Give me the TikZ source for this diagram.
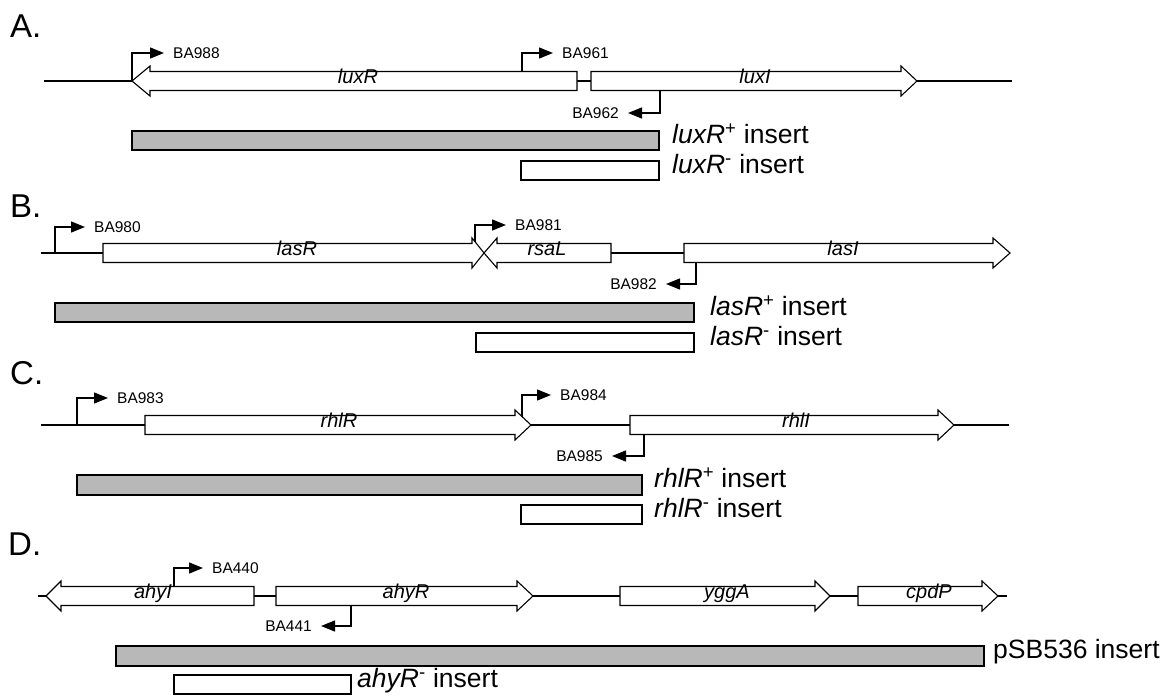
\documentclass[tikz,border=0pt]{standalone}
\usepackage{fontspec}
\setmainfont{Liberation Sans}
\usetikzlibrary{arrows.meta}
\definecolor{insgrey}{RGB}{184,184,184}
\newcommand{\drawgeneright}[4]{% left, shoulder, tip, y
  \draw[gene] (#1,#4-9.5) -- (#2,#4-9.5) -- (#2,#4-15) -- (#3,#4) -- (#2,#4+15) -- (#2,#4+9.5) -- (#1,#4+9.5) -- cycle;}
\newcommand{\drawgeneleft}[4]{% tip, shoulder, right, y
  \draw[gene] (#3,#4-9.5) -- (#2,#4-9.5) -- (#2,#4-15) -- (#1,#4) -- (#2,#4+15) -- (#2,#4+9.5) -- (#3,#4+9.5) -- cycle;}
\tikzset{
  backbone/.style={line width=2.2pt},
  gene/.style={draw, line width=1.1pt, fill=white, line join=miter},
  genelab/.style={anchor=mid, inner sep=0pt, font=\fontsize{20}{20}\selectfont\itshape},
  primer/.style={inner sep=0pt, font=\fontsize{15.5}{15.5}\selectfont},
  prom/.style={line width=1.3pt, arrows={-Triangle[length=14pt,width=11pt]}, shorten >=9pt},
  plusbox/.style={draw, line width=1.1pt, fill=insgrey},
  minusbox/.style={draw, line width=1.1pt, fill=white},
  inslab/.style={anchor=mid west, inner sep=0pt, font=\fontsize{26.5}{26.5}\selectfont},
  panel/.style={anchor=base west, inner sep=0pt, font=\fontsize{33}{33}\selectfont},
}
\begin{document}
\begin{tikzpicture}[x=1pt,y=-1pt]
\useasboundingbox (0,0) rectangle (1173,698);

%% ---------------- Panel A ----------------
\node[panel] (pA) at (10,38) {A.};
\draw[backbone] (44,81) -- (132,81);
\draw[backbone] (577,81) -- (591,81);
\draw[backbone] (917,81) -- (1012,81);
\drawgeneleft{132}{150}{577}{81}
\drawgeneright{591}{901}{917}{81}
\node[genelab] (luxR) at (358,81) {luxR};
\node[genelab] (luxI) at (755,81) {luxI};
\coordinate (s988) at (132,81);
\coordinate (s961) at (522,71.5);
\coordinate (s962) at (660,90.5);
\node[primer, anchor=west] (ba988) at (173,53) {BA988};
\node[primer, anchor=west] (ba961) at (562,53) {BA961};
\node[primer, anchor=east] (ba962) at (619,113) {BA962};
\draw[prom] (s988) |- (ba988.west);
\draw[prom] (s961) |- (ba961.west);
\draw[prom] (s962) |- (ba962.east);
\draw[plusbox] (132,131) rectangle (659,150);
\draw[minusbox] (521,161) rectangle (659,180);
\node[inslab] (luxRp) at (672,140.5) {{\itshape luxR}\textsuperscript{+} insert};
\node[inslab] (luxRm) at (672,170.5) {{\itshape luxR}\textsuperscript{-} insert};

%% ---------------- Panel B ----------------
\node[panel] (pB) at (10,217) {B.};
\draw[backbone] (41,253) -- (103,253);
\draw[backbone] (611,253) -- (684,253);
\drawgeneright{103}{472}{484}{253}
\drawgeneleft{484}{497}{611}{253}
\drawgeneright{684}{993}{1010}{253}
\node[genelab] (lasR) at (297,253) {lasR};
\node[genelab] (rsaL) at (547,253) {rsaL};
\node[genelab] (lasI) at (843,253) {lasI};
\coordinate (s980) at (55,253);
\coordinate (s981) at (475,242);
\coordinate (s982) at (696,262.5);
\node[primer, anchor=west] (ba980) at (94,227) {BA980};
\node[primer, anchor=west] (ba981) at (515,225) {BA981};
\node[primer, anchor=east] (ba982) at (657,284) {BA982};
\draw[prom] (s980) |- (ba980.west);
\draw[prom] (s981) |- (ba981.west);
\draw[prom] (s982) |- (ba982.east);
\draw[plusbox] (55,303) rectangle (694,322);
\draw[minusbox] (476,333) rectangle (694,352);
\node[inslab] (lasRp) at (710,312.5) {{\itshape lasR}\textsuperscript{+} insert};
\node[inslab] (lasRm) at (710,342.5) {{\itshape lasR}\textsuperscript{-} insert};

%% ---------------- Panel C ----------------
\node[panel] (pC) at (10,384) {C.};
\draw[backbone] (41,425) -- (145,425);
\draw[backbone] (531,425) -- (630,425);
\draw[backbone] (954,425) -- (1009,425);
\drawgeneright{145}{515}{531}{425}
\drawgeneright{630}{938}{954}{425}
\node[genelab] (rhlR) at (339,425) {rhlR};
\node[genelab] (rhlI) at (796,425) {rhlI};
\coordinate (s983) at (77,425);
\coordinate (s984) at (522,416.5);
\coordinate (s985) at (644,434.5);
\node[primer, anchor=west] (ba983) at (117,398) {BA983};
\node[primer, anchor=west] (ba984) at (560,395) {BA984};
\node[primer, anchor=east] (ba985) at (603,456) {BA985};
\draw[prom] (s983) |- (ba983.west);
\draw[prom] (s984) |- (ba984.west);
\draw[prom] (s985) |- (ba985.east);
\draw[plusbox] (77,475) rectangle (642,495);
\draw[minusbox] (521,505) rectangle (642,524);
\node[inslab] (rhlRp) at (654,485) {{\itshape rhlR}\textsuperscript{+} insert};
\node[inslab] (rhlRm) at (654,514.5) {{\itshape rhlR}\textsuperscript{-} insert};

%% ---------------- Panel D ----------------
\node[panel] (pD) at (8,555) {D.};
\draw[backbone] (38,596) -- (46,596);
\draw[backbone] (254,596) -- (276,596);
\draw[backbone] (533,596) -- (620,596);
\draw[backbone] (830,596) -- (858,596);
\draw[backbone] (998,596) -- (1007,596);
\drawgeneleft{46}{61}{254}{596}
\drawgeneright{276}{517}{533}{596}
\drawgeneright{620}{815}{830}{596}
\drawgeneright{858}{982}{998}{596}
\node[genelab] (ahyI) at (153,596) {ahyI};
\node[genelab] (ahyR) at (406,596) {ahyR};
\node[genelab] (yggA) at (727,596) {yggA};
\node[genelab] (cpdP) at (929,596) {cpdP};
\coordinate (s440) at (174,586.5);
\coordinate (s441) at (351,605.5);
\node[primer, anchor=west] (ba440) at (212,568) {BA440};
\node[primer, anchor=east] (ba441) at (312,626) {BA441};
\draw[prom] (s440) |- (ba440.west);
\draw[prom] (s441) |- (ba441.east);
\draw[plusbox] (116,646) rectangle (984,666);
\draw[minusbox] (174,675) rectangle (351,694);
\node[inslab] (pSB) at (993,656) {pSB536 insert};
\node[inslab] (ahyRm) at (357,684.5) {{\itshape ahyR}\textsuperscript{-} insert};
\end{tikzpicture}
\end{document}
